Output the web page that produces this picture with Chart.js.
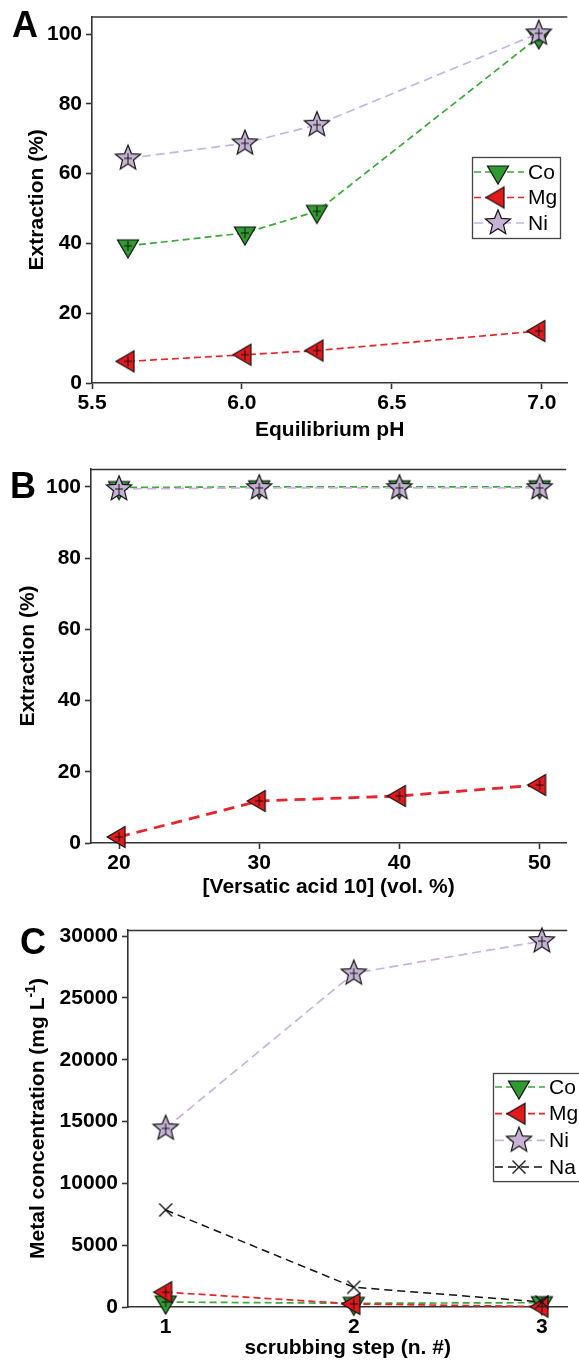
<!DOCTYPE html>
<html>
<head>
<meta charset="utf-8">
<script src="https://cdn.jsdelivr.net/npm/chart.js@4.4.1/dist/chart.umd.min.js"></script>
<style>
  html, body { margin: 0; padding: 0; background: #fff; }
  body { width: 579px; height: 1363px; position: relative; overflow: hidden; }
  canvas { position: absolute; left: 0; }
</style>
</head>
<body>
<canvas id="chartA" width="579" height="445" style="top:0"></canvas>
<canvas id="chartB" width="579" height="455" style="top:445px"></canvas>
<canvas id="chartC" width="579" height="463" style="top:900px"></canvas>
<script>
// ---- data ----------------------------------------------------------------

// A : extraction vs equilibrium pH
const phA = [5.62, 6.01, 6.25, 6.99];
const coA = [39.3, 43.0, 49.2, 99.2];
const mgA = [6.2, 8.1, 9.3, 14.9];
const niA = [64.4, 68.7, 74.0, 100.2];

// B : extraction vs [Versatic acid 10]
const volB = [20, 30, 40, 50];
const coB = [99.8, 100, 100, 100];
const mgB = [1.7, 11.8, 13.2, 16.3];
const niB = [99.4, 99.7, 99.7, 99.7];

// C : metal concentration per scrubbing step
const stepC = [1, 2, 3];
const coC = [400, 300, 350];
const mgC = [1200, 250, 30];
const niC = [14450, 27000, 29600];
const naC = [7850, 1600, 400];

// tick labels
const xTicksA = [5.5, 6.0, 6.5, 7.0];
const xTicksB = [20, 30, 40, 50];
const xTicksC = [1, 2, 3];
const yTicksAB = [0, 20, 40, 60, 80, 100];
const yTicksC = [0, 5000, 10000, 15000, 20000, 25000, 30000];

// ---- styling -------------------------------------------------------------
const FONT = '"Liberation Sans", Arial, Helvetica, sans-serif';
const AXIS = '#333';

// marker glyphs (canvas images used as pointStyle)
function marker(shape, fill, plus) {
    const c = document.createElement('canvas');
    c.width = 32; c.height = 32;
    const g = c.getContext('2d');
    g.translate(16, 16);
    g.lineWidth = 1.2;
    g.strokeStyle = '#111';
    g.fillStyle = fill;
    g.beginPath();
    if (shape === 'down') {
        g.moveTo(-10.5, -6); g.lineTo(10.5, -6); g.lineTo(0, 12); g.closePath();
    } else if (shape === 'left') {
        g.moveTo(-12, 0); g.lineTo(6, -10.5); g.lineTo(6, 10.5); g.closePath();
    } else if (shape === 'star') {
        for (let i = 0; i < 10; i++) {
            const r = i % 2 ? 5.8 : 13.2;
            const a = -Math.PI / 2 + i * Math.PI / 5;
            g.lineTo(r * Math.cos(a), r * Math.sin(a));
        }
        g.closePath();
    }
    if (shape === 'x') {
        g.lineWidth = 1.4;
        g.moveTo(-6.5, -6.5); g.lineTo(6.5, 6.5);
        g.moveTo(6.5, -6.5); g.lineTo(-6.5, 6.5);
        g.stroke();
    } else {
        g.fill();
        g.stroke();
    }
    if (plus) {   // tiny error bars hidden inside the markers
        g.lineWidth = 1;
        g.beginPath();
        g.moveTo(0, -5); g.lineTo(0, 5);
        g.moveTo(-4, 0); g.lineTo(4, 0);
        g.stroke();
    }
    return c;
}

const STYLE = {
    Co: { line: '#3aa83a', fill: '#2f9a2f', shape: 'down', dash: [7, 4], width: 1.7, order: 3 },
    Mg: { line: '#e8232a', fill: '#e31a1c', shape: 'left', dash: [7, 4], width: 1.7, order: 2 },
    Ni: { line: '#c9b4dd', fill: '#c5b2d5', shape: 'star', dash: [9, 5], width: 1.7, order: 0 },
    Na: { line: '#111111', fill: '#111111', shape: 'x', dash: [8, 5], width: 1.5, order: 1 }
};

function ds(label, xs, ys, extra) {
    const s = Object.assign({}, STYLE[label], extra || {});
    return {
        label: label,
        data: xs.map((x, i) => ({ x: x, y: ys[i] })),
        borderColor: s.line,
        borderWidth: s.width,
        borderDash: s.dash,
        pointStyle: marker(s.shape, s.fill, s.shape !== 'x'),
        pointRadius: 10,
        pointHoverRadius: 10,
        tension: 0,
        fill: false,
        clip: false,
        order: s.order,
        legendMarker: marker(s.shape, s.fill, false)
    };
}

function scales(o) {
    return {
        x: {
            type: 'linear', min: o.xMin, max: o.xMax,
            afterBuildTicks: s => { s.ticks = o.xTicks.map(v => ({ value: v })); },
            afterFit: s => { s.height = o.bottom; },
            border: { color: AXIS, width: 1.6 },
            grid: { drawOnChartArea: false, tickLength: 6, tickColor: AXIS, tickWidth: 1.6 },
            ticks: { color: '#000', padding: 2, maxRotation: 0, font: { family: FONT, size: 21, weight: 'bold' }, callback: o.fmtX }
        },
        y: {
            min: 0, max: o.yMax,
            afterBuildTicks: s => { s.ticks = o.yTicks.map(v => ({ value: v })); },
            afterFit: s => { s.width = o.left; },
            border: { color: AXIS, width: 1.6 },
            grid: { drawOnChartArea: false, tickLength: 6, tickColor: AXIS, tickWidth: 1.6 },
            ticks: { color: '#000', padding: 4, font: { family: FONT, size: 21, weight: 'bold' }, callback: v => String(v) }
        }
    };
}

// panel letter, axis titles, top frame line and boxed legend
const deco = {
    id: 'deco',
    afterDraw(chart, args, opt) {
        const ctx = chart.ctx;
        const a = chart.chartArea;
        ctx.save();

        // top frame
        ctx.strokeStyle = AXIS;
        ctx.lineWidth = 1.5;
        ctx.beginPath();
        ctx.moveTo(a.left, a.top + 0.5);
        ctx.lineTo(a.right, a.top + 0.5);
        ctx.stroke();

        // panel letter
        ctx.fillStyle = '#000';
        ctx.font = 'bold 36px ' + FONT;
        ctx.textAlign = 'left';
        ctx.textBaseline = 'alphabetic';
        ctx.fillText(opt.letter, opt.letterX, opt.letterY);

        // x title
        ctx.font = 'bold 21px ' + FONT;
        ctx.textAlign = 'center';
        ctx.textBaseline = 'middle';
        ctx.fillText(opt.xTitle, (a.left + a.right) / 2 + (opt.xTitleDx || 0), a.bottom + opt.xTitleDy);

        // y title (optional superscript)
        ctx.save();
        ctx.translate(opt.yTitleX, (a.top + a.bottom) / 2);
        ctx.rotate(-Math.PI / 2);
        ctx.textAlign = 'left';
        const parts = opt.yTitle;
        let total = 0;
        parts.forEach(p => {
            ctx.font = 'bold ' + (p.sup ? 14 : 21) + 'px ' + FONT;
            total += ctx.measureText(p.t).width;
        });
        let cx = -total / 2;
        parts.forEach(p => {
            ctx.font = 'bold ' + (p.sup ? 14 : 21) + 'px ' + FONT;
            ctx.fillText(p.t, cx, p.sup ? -7 : 0);
            cx += ctx.measureText(p.t).width;
        });
        ctx.restore();

        // legend
        const L = opt.legend;
        const n = chart.data.datasets.length;
        const h = L.first * 2 + L.step * (n - 1);
        ctx.fillStyle = '#fff';
        ctx.fillRect(L.x, L.y, L.w, h);
        ctx.strokeStyle = '#444';
        ctx.lineWidth = 1.3;
        ctx.strokeRect(L.x + 0.5, L.y + 0.5, L.w, h);
        chart.data.datasets.forEach((d, i) => {
            const y = L.y + L.first + i * L.step;
            ctx.strokeStyle = d.borderColor;
            ctx.lineWidth = d.borderWidth;
            ctx.setLineDash(d.borderDash);
            ctx.beginPath();
            ctx.moveTo(L.x + 2, y);
            ctx.lineTo(L.x + 52, y);
            ctx.stroke();
            ctx.setLineDash([]);
            const m = d.legendMarker;
            ctx.drawImage(m, L.x + 26 - m.width / 2, y - m.height / 2);
            ctx.fillStyle = '#000';
            ctx.font = '21px ' + FONT;
            ctx.textAlign = 'left';
            ctx.textBaseline = 'middle';
            ctx.fillText(d.label, L.x + 56, y + 1);
        });
        ctx.restore();
    }
};

function build(id, datasets, sc, padTop, decoOpt) {
    return new Chart(document.getElementById(id), {
        type: 'line',
        data: { datasets: datasets },
        options: {
            responsive: false,
            animation: false,
            events: [],
            layout: { padding: { top: padTop, left: 0, right: 0, bottom: 0 } },
            scales: sc,
            plugins: { legend: { display: false }, tooltip: { enabled: false }, deco: decoOpt }
        },
        plugins: [deco]
    });
}

// ---- A -------------------------------------------------------------------
build('chartA',
    [ds('Co', phA, coA), ds('Mg', phA, mgA), ds('Ni', phA, niA)],
    scales({ xMin: 5.5, xMax: 7.085, xTicks: xTicksA, fmtX: v => v.toFixed(1), yMax: 105, yTicks: yTicksAB, left: 92, bottom: 62 }),
    9,
    {
        letter: 'A', letterX: 12, letterY: 37,
        xTitle: 'Equilibrium pH', xTitleDy: 47,
        yTitle: [{ t: 'Extraction (%)' }], yTitleX: 37,
        legend: { x: 472, y: 157, w: 88, first: 15, step: 25.5 }
    });

// ---- B -------------------------------------------------------------------
build('chartB',
    [ds('Co', volB, coB), ds('Mg', volB, mgB, { width: 2.8, dash: [11, 7] }), ds('Ni', volB, niB)],
    scales({ xMin: 18, xMax: 51.9, xTicks: xTicksB, fmtX: v => String(v), yMax: 105, yTicks: yTicksAB, left: 91, bottom: 57 }),
    24,
    {
        letter: 'B', letterX: 10, letterY: 53,
        xTitle: '[Versatic acid 10] (vol. %)', xTitleDy: 44,
        yTitle: [{ t: 'Extraction (%)' }], yTitleX: 28,
        legend: { x: 469, y: 611, w: 89, first: 15, step: 26 }
    });

// ---- C -------------------------------------------------------------------
build('chartC',
    [ds('Co', stepC, coC), ds('Mg', stepC, mgC), ds('Ni', stepC, niC), ds('Na', stepC, naC)],
    scales({ xMin: 0.8, xMax: 3.135, xTicks: xTicksC, fmtX: v => String(v), yMax: 30500, yTicks: yTicksC, left: 128, bottom: 56 }),
    30,
    {
        letter: 'C', letterX: 20, letterY: 54,
        xTitle: 'scrubbing step (n. #)', xTitleDy: 41,
        yTitle: [{ t: 'Metal concentration (mg L' }, { t: '-1', sup: true }, { t: ')' }], yTitleX: 38,
        legend: { x: 493, y: 1073 - 900, w: 110, first: 14, step: 26.7 }
    });
</script>
</body>
</html>
